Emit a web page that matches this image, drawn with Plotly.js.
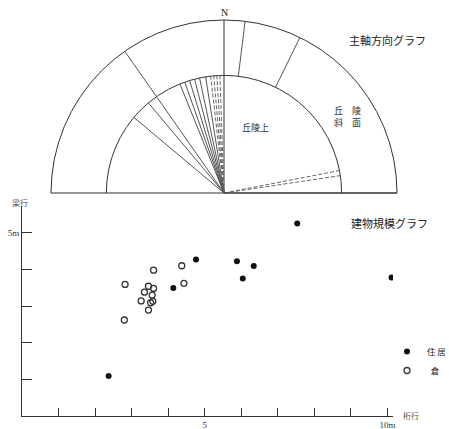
<!DOCTYPE html>
<html><head><meta charset="utf-8">
<script src="https://cdn.plot.ly/plotly-3.0.1.min.js"></script>
<style>html,body{margin:0;padding:0;background:#fff;}#chart{width:449px;height:429px;}</style>
</head><body><div id="chart"></div>
<script>
// ---- 主軸方向グラフ data (degrees from north, clockwise positive) ----
const innerRadius = 0.68;
const hilltopSolidAngles = [-50, -40, -22, -19.5, -17, -14.5, -12, -9];
const hilltopDashedAngles = [-6.5, -5, -3.5, -2, 79, 81.5];
const slopeAngles = [7, 26];
const fullAngles = [-35];

// ---- 建物規模グラフ data (桁行 x, 梁行 y in m) ----
const houseX = [2.37, 4.14, 4.76, 5.88, 6.04, 6.34, 7.53, 10.11];
const houseY = [1.09, 3.49, 4.27, 4.22, 3.75, 4.09, 5.25, 3.78];
const storeX = [2.82, 2.80, 3.60, 3.46, 3.35, 3.60, 3.56, 3.26, 3.52, 3.58, 3.46, 4.37, 4.43];
const storeY = [3.59, 2.62, 3.98, 3.54, 3.38, 3.48, 3.30, 3.14, 3.09, 3.13, 2.89, 4.10, 3.62];
const xTickVals = [1,2,3,4,5,6,7,8,9,10];
const xTickText = ['','','','','5','','','','','10m'];
const yTickVals = [1,2,3,4,5];
const yTickText = ['','','','','5m'];

function rays(angles, r0, r1) {
  const r = [], t = [];
  angles.forEach(a => { r.push(r0, r1, null); t.push(a, a, null); });
  return {r, t};
}
const ink = '#333';
const cjk = 'Noto Sans CJK JP';

const a = rays(hilltopSolidAngles, 0, innerRadius);
const b = rays(hilltopDashedAngles, 0, innerRadius);
const c = rays(slopeAngles, innerRadius, 1);
const d = rays(fullAngles, 0, 1);

const traces = [
  {type:'scatterpolar', mode:'lines', r:a.r, theta:a.t, line:{color:'#555', width:1}, hoverinfo:'skip', showlegend:false},
  {type:'scatterpolar', mode:'lines', r:b.r, theta:b.t, line:{color:'#666', width:1, dash:'4px,2px'}, hoverinfo:'skip', showlegend:false},
  {type:'scatterpolar', mode:'lines', r:c.r, theta:c.t, line:{color:'#555', width:1}, hoverinfo:'skip', showlegend:false},
  {type:'scatterpolar', mode:'lines', r:d.r, theta:d.t, line:{color:'#555', width:1}, hoverinfo:'skip', showlegend:false},
  {type:'scatter', mode:'markers', x:houseX, y:houseY, name:'住\u2009居',
   marker:{symbol:'circle', size:6, color:'#111'}},
  {type:'scatter', mode:'markers', x:storeX, y:storeY, name:'\u00a0\u00a0倉',
   marker:{symbol:'circle-open', size:6, color:'#333', line:{width:1.3, color:'#333'}}}
];

function note(text, px, py, size, color, family) {
  return {text:text, x:px/449, y:1-py/429, xref:'paper', yref:'paper', showarrow:false,
    xanchor:'center', yanchor:'middle', font:{family:family || cjk, size:size, color:color || '#222'}};
}

const layout = {
  width:449, height:429,
  margin:{l:0, r:0, t:0, b:0, autoexpand:false},
  paper_bgcolor:'#fff', plot_bgcolor:'rgba(0,0,0,0)',
  font:{family:cjk, color:'#222', size:10},
  polar:{
    domain:{x:[51/449, 397/449], y:[1-193/429, 1-20/429]},
    sector:[0,180],
    bgcolor:'rgba(0,0,0,0)',
    radialaxis:{range:[0,1], tickvals:[innerRadius], showticklabels:false, ticks:'',
      showline:false, showgrid:true, gridcolor:ink, gridwidth:1},
    angularaxis:{rotation:90, direction:'clockwise', tickvals:[0,90,270], ticks:'',
      showticklabels:false, showline:true, linecolor:ink, linewidth:1,
      showgrid:true, gridcolor:ink, gridwidth:1}
  },
  xaxis:{domain:[22/449, 393/449], range:[0,10.15], anchor:'y',
    tickvals:xTickVals, ticktext:xTickText, ticks:'inside', ticklen:8, tickcolor:ink,
    showline:true, linecolor:ink, showgrid:false, zeroline:false, fixedrange:true,
    tickfont:{family:'Liberation Serif', size:9, color:'#333'}},
  yaxis:{domain:[1-416/429, 1-206/429], range:[0,5.73], anchor:'x',
    tickvals:yTickVals, ticktext:yTickText, ticks:'inside', ticklen:10, tickcolor:ink,
    showline:true, linecolor:ink, showgrid:false, zeroline:false, fixedrange:true,
    tickfont:{family:'Liberation Serif', size:9, color:'#333'}},
  showlegend:true,
  legend:{x:387/449, y:1-337/429, xanchor:'left', yanchor:'top', bgcolor:'rgba(0,0,0,0)',
    font:{family:cjk, size:8.5, color:'#222'}, itemwidth:30, tracegroupgap:0},
  annotations:[
    note('N', 224, 12, 10, '#222', 'Liberation Serif'),
    note('主軸方向グラフ', 387, 40, 11),
    note('丘陵上', 255, 127, 9, '#333'),
    note('丘　陵<br>斜　面', 347, 117, 9, '#333'),
    note('建物規模グラフ', 389, 223, 11),
    note('梁行', 20, 202, 8, '#555'),
    note('桁行', 411, 415, 8, '#555')
  ]
};
Plotly.newPlot('chart', traces, layout, {staticPlot:true, displayModeBar:false});
</script></body></html>
